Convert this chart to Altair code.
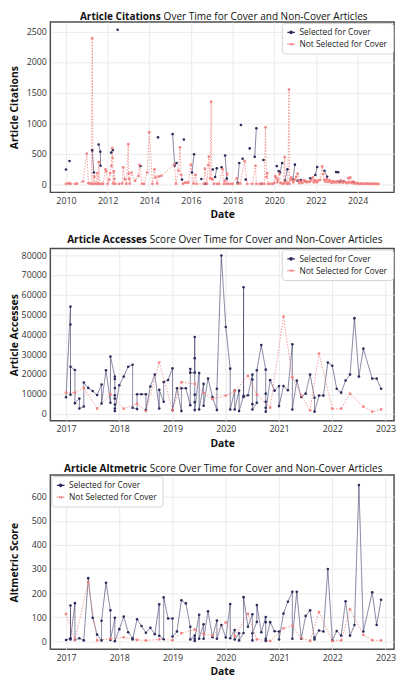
import altair as alt
import pandas as pd

SEL = "Selected for Cover"
NOT = "Not Selected for Cover"
NAVY = "#2b2b5c"
RED = "#f27b7b"
FONT = "Open Sans"

# ---------------- Panel 1: Article Citations (decimal years) ----------------
cit_sel_year = [2010.0, 2010.17, 2011.26, 2011.34, 2011.57, 2011.65, 2011.66, 2012.17, 2012.25, 2012.48,
                2013.58, 2014.42, 2015.12, 2015.22, 2015.31, 2015.57, 2015.66, 2016.05, 2016.15, 2016.5,
                2016.69, 2017.05, 2017.16, 2017.24, 2017.47, 2017.64, 2017.72, 2018.24, 2018.32, 2018.4,
                2018.48, 2018.63, 2018.82, 2019.06, 2019.14, 2019.39, 2019.48, 2020.12, 2020.21, 2020.28,
                2020.38, 2020.52, 2020.63, 2020.9, 2020.99, 2021.12, 2021.27, 2021.48, 2021.73, 2021.97,
                2022.06, 2022.41, 2022.54, 2022.97, 2023.07, 2023.15, 2023.33, 2023.8]
cit_sel_val = [240, 378, 553, 190, 650, 530, 300, 516, 560, 2527,
               298, 766, 819, 303, 346, 74, 729, 191, 489, 85,
               5, 240, 117, 260, 277, 468, 90, 20, 346, 968,
               415, 74, 585, 447, 915, 5, 394, 295, 215, 190,
               345, 60, 242, 75, 319, 55, 65, 50, 95, 150,
               280, 218, 120, 197, 195, 40, 45, 35]
cit_sel_seg = [0, 1, 2, 2, 3, 3, 3, 4, 4, 5,
               6, 7, 8, 8, 8, 9, 10, 11, 11, 12,
               13, 14, 15, 15, 16, 17, 17, 18, 18, 19,
               20, 21, 22, 23, 23, 24, 25, 26, 27, 27,
               27, 28, 28, 29, 29, 30, 31, 32, 33, 34,
               34, 35, 35, 36, 36, 37, 38, 39]

cit_not_year = [2010.0, 2010.12, 2010.17, 2010.22, 2010.45, 2010.52, 2010.82, 2011.0, 2011.08, 2011.15,
                2011.22, 2011.26, 2011.3, 2011.36, 2011.4, 2011.45, 2011.5, 2011.54, 2011.58, 2011.62,
                2011.7, 2011.78, 2011.9, 2011.93, 2012.0, 2012.08, 2012.12, 2012.18, 2012.22, 2012.24,
                2012.27, 2012.3, 2012.32, 2012.36, 2012.55, 2012.7, 2012.75, 2012.83, 2012.9, 2012.99,
                2013.01, 2013.03, 2013.06, 2013.15, 2013.32, 2013.48, 2013.53, 2013.65, 2013.75, 2013.9,
                2014.0, 2014.15, 2014.25, 2014.3, 2014.38, 2014.45, 2014.58, 2015.2, 2015.28, 2015.4,
                2015.47, 2015.53, 2015.62, 2015.72, 2015.8, 2015.88, 2016.0, 2016.12, 2016.22, 2016.27,
                2016.62, 2016.67, 2016.77, 2016.83, 2016.86, 2016.92, 2016.97, 2017.0, 2017.03, 2017.1,
                2017.25, 2017.35, 2017.52, 2017.58, 2017.62, 2017.7, 2017.74, 2017.78, 2017.9, 2018.0,
                2018.2, 2018.24, 2018.36, 2018.58, 2018.7, 2018.95, 2019.1, 2019.14, 2019.3, 2019.4,
                2019.52, 2019.58, 2019.62, 2019.66, 2019.7, 2019.8, 2019.92, 2020.0, 2020.05, 2020.1,
                2020.15, 2020.18, 2020.25, 2020.3, 2020.4, 2020.45, 2020.5, 2020.52, 2020.6, 2020.65,
                2020.71, 2020.73, 2020.78, 2020.82, 2020.88, 2020.92, 2021.0, 2021.05, 2021.12, 2021.17,
                2021.2, 2021.28, 2021.35, 2021.42, 2021.48, 2021.55, 2021.62, 2021.7, 2021.78, 2021.85,
                2021.9, 2021.95, 2022.0, 2022.05, 2022.12, 2022.2, 2022.3, 2022.35, 2022.4, 2022.45,
                2022.52, 2022.58, 2022.65, 2022.7, 2022.75, 2022.82, 2022.88, 2022.95, 2023.0, 2023.05,
                2023.12, 2023.2, 2023.28, 2023.35, 2023.42, 2023.5, 2023.55, 2023.6, 2023.65, 2023.7,
                2023.75, 2023.82, 2023.88, 2023.95, 2024.02, 2024.1, 2024.18, 2024.25, 2024.32, 2024.4,
                2024.48, 2024.55, 2024.62, 2024.7, 2024.78, 2024.85, 2024.92, 2025.0]
cit_not_val = [5, 10, 15, 5, 5, 8, 45, 500, 15, 10,
               5, 2390, 5, 125, 8, 5, 180, 5, 360, 5,
               5, 5, 240, 210, 5, 75, 180, 300, 590, 430,
               10, 210, 85, 5, 5, 10, 275, 80, 5, 655,
               170, 85, 8, 190, 55, 135, 315, 5, 5, 190,
               850, 5, 240, 110, 10, 125, 135, 320, 5, 220,
               600, 150, 5, 25, 25, 25, 320, 10, 150, 5,
               5, 255, 5, 310, 450, 95, 1350, 85, 80, 5,
               5, 5, 240, 5, 55, 5, 170, 5, 5, 5,
               95, 5, 10, 375, 5, 5, 300, 5, 5, 5,
               5, 930, 115, 180, 5, 5, 5, 20, 130, 100,
               30, 70, 170, 20, 5, 10, 445, 40, 5, 20,
               1548, 5, 75, 110, 60, 30, 75, 120, 170, 60,
               15, 40, 20, 65, 45, 30, 40, 35, 65, 110,
               30, 65, 45, 30, 60, 70, 290, 165, 70, 40,
               80, 35, 65, 40, 20, 50, 25, 40, 30, 50,
               25, 60, 20, 45, 30, 15, 100, 30, 110, 20,
               40, 10, 25, 5, 15, 5, 10, 5, 8, 5,
               10, 5, 3, 8, 5, 3, 5, 3]

# ---------------- Panel 2: Article Accesses (month index from Jan 2017) ----------------
acc_sel_month = [0, 1, 1, 1, 1, 2, 2, 3, 3, 4, 4, 5, 6, 7, 8, 8, 9, 10, 10,
                 11, 11, 11, 11, 11, 11, 11, 11, 12, 13, 14, 15, 15, 16, 16, 17, 18, 18,
                 19, 20, 21, 21, 22, 22, 23, 24, 24, 25, 26, 26, 27, 28, 28, 28,
                 29, 29, 29, 29, 29, 29, 30, 30, 31, 31, 32, 33, 34, 34, 35, 36, 37, 37,
                 38, 38, 39, 39, 40, 40, 40, 41, 42, 42, 42, 42, 43, 43, 44,
                 45, 45, 45, 45, 45, 46, 47, 48, 48, 49, 50, 51, 51, 52, 53, 54, 55, 56, 56,
                 57, 58, 59, 60, 61, 62, 63, 64, 65, 66, 67, 69, 70, 71]
acc_sel_val = [8300, 54000, 45000, 9600, 23700, 22000, 5300, 7600, 2600, 3600, 15700, 13000, 11400, 9400, 14700, 5100, 21900, 5500, 28800,
               18700, 17500, 12900, 9300, 7600, 4600, 2600, 1300, 14300, 18700, 23700, 24700, 3000, 2300, 9800, 9800, 9800, 1800,
               13700, 19700, 2600, 12000, 6000, 16000, 17000, 22900, 1700, 12800, 1300, 12800, 12800, 4300, 22500, 20700,
               20700, 38700, 28000, 9600, 5800, 1800, 20500, 2100, 15000, 4000, 17700, 8400, 1800, 12600, 79800, 43700, 22700, 2100,
               11600, 2100, 11600, 1300, 9000, 63800, 8400, 9300, 19700, 17200, 4800, 2100, 5500, 21900, 34600,
               22200, 10100, 6000, 3000, 1000, 16900, 11600, 13900, 3800, 13900, 11800, 35000, 2100, 16700, 8400, 10100, 19700, 8000, 1000,
               9100, 9100, 25800, 24200, 12600, 10600, 16700, 19700, 48200, 18700, 32800, 17700, 17700, 12600]
acc_not_month = [0, 2, 4, 7, 10, 13, 16, 18, 21, 24, 26, 29, 31, 33, 36,
                 38, 41, 43, 46, 49, 51, 53, 55, 57, 60, 62, 64, 67, 69, 71]
acc_not_val = [10600, 10600, 13000, 2500, 9900, 2500, 5100, 1300, 25800, 1700, 15900, 15000, 10400, 7300, 9100,
               11300, 19000, 9600, 3000, 49000, 18400, 9100, 1700, 30300, 2500, 2500, 10100, 3500, 1000, 2100]

# ---------------- Panel 3: Altmetric Score (month index from Jan 2017) ----------------
alt_sel_month = [0, 1, 1, 1, 2, 2, 3, 4, 5, 6, 7, 8, 8, 9, 10, 10, 11, 11, 12, 13, 14, 15, 15,
                 16, 17, 18, 19, 20, 21, 21, 22, 22, 23, 24, 24, 25, 26, 27, 28, 28, 29, 29, 29,
                 30, 30, 31, 31, 32, 33, 34, 34, 35, 36, 37, 37, 38, 38, 39, 39, 40, 40, 41,
                 42, 42, 42, 43, 43, 44, 45, 45, 45, 45, 46, 47, 48, 48, 49, 50, 51, 51, 52, 53,
                 54, 55, 56, 56, 57, 58, 59, 60, 61, 62, 63, 64, 65, 66, 67, 69, 70, 71]
alt_sel_val = [5, 12, 148, 7, 158, 5, 12, 3, 262, 97, 27, 3, 85, 243, 128, 5, 97, 0, 50, 102, 37, 12, 7,
               91, 63, 35, 56, 29, 153, 22, 8, 182, 94, 94, 19, 40, 170, 157, 60, 7, 23, 1, 10,
               110, 10, 70, 10, 124, 16, 86, 10, 67, 15, 154, 12, 46, 7, 33, 3, 34, 183, 60,
               112, 3, 33, 80, 150, 37, 100, 79, 10, 1, 79, 41, 40, 7, 115, 164, 205, 10, 205, 10,
               105, 128, 7, 15, 44, 40, 300, 3, 42, 23, 166, 23, 67, 649, 40, 203, 67, 172]
alt_not_month = [0, 2, 5, 7, 10, 13, 16, 18, 21, 24, 26, 29, 31, 33, 36,
                 38, 41, 43, 46, 49, 51, 53, 55, 57, 60, 62, 64, 67, 69, 71]
alt_not_val = [113, 5, 244, 3, 10, 16, 5, 3, 7, 4, 33, 48, 30, 23, 78,
               20, 113, 7, 1, 53, 64, 14, 1, 121, 1, 3, 132, 26, 4, 3]

assert len(cit_sel_year) == len(cit_sel_val) == len(cit_sel_seg)
assert len(cit_not_year) == len(cit_not_val)
assert len(acc_sel_month) == len(acc_sel_val)
assert len(alt_sel_month) == len(alt_sel_val)


def to_year(months):
    return [2017 + m / 12 for m in months]


def make_df(sx, sy, sseg, nx, ny):
    rows = []
    for i, (x, y, s) in enumerate(zip(sx, sy, sseg)):
        rows.append({"year": x, "value": y, "series": SEL, "seg": f"s{s}", "i": i})
    for i, (x, y) in enumerate(zip(nx, ny)):
        rows.append({"year": x, "value": y, "series": NOT, "seg": "n", "i": i})
    return pd.DataFrame(rows)


SYMBOL = "M-1,0L1,0M0.32,0A0.32,0.32,0,1,1,-0.32,0A0.32,0.32,0,1,1,0.32,0"
color_scale = alt.Scale(domain=[SEL, NOT], range=[NAVY, RED])
dash_scale = alt.Scale(domain=[SEL, NOT], range=[[1, 0], [1.5, 1.5]])
opac_scale = alt.Scale(domain=[SEL, NOT], range=[0.6, 0.75])


def panel(df, bold, rest, split, ty, ytitle, xdom, xticks, ydom, yticks, h, orient):
    x = alt.X("year:Q", scale=alt.Scale(domain=xdom, nice=False, zero=False),
              axis=alt.Axis(values=xticks, format="d", title="Date"))
    y = alt.Y("value:Q", scale=alt.Scale(domain=ydom, nice=False, zero=False),
              axis=alt.Axis(values=yticks, format="d", title=ytitle, titleX=-31))
    leg = alt.Legend(title=None, orient=orient, offset=1, fillColor="white", strokeColor="#d4d4d4",
                     cornerRadius=3, padding=5, labelFont=FONT, labelFontSize=8.5, labelColor="#222",
                     symbolType=SYMBOL, symbolSize=60, symbolStrokeWidth=1.2, rowPadding=3)
    lines = alt.Chart(df).mark_line(strokeWidth=1).encode(
        x=x, y=y,
        color=alt.Color("series:N", scale=color_scale, legend=leg),
        strokeDash=alt.StrokeDash("series:N", scale=dash_scale, legend=leg),
        opacity=alt.Opacity("series:N", scale=opac_scale, legend=None),
        detail="seg:N",
        order="i:Q",
    )
    sel_pts = alt.Chart(df).transform_filter(alt.datum.series == SEL).mark_circle(
        size=7, color=NAVY, opacity=1).encode(x=x, y=y)
    not_pts = alt.Chart(df).transform_filter(alt.datum.series == NOT).mark_circle(
        size=8, color=RED, opacity=0.9).encode(x=x, y=y)
    one = alt.Data(values=[{}])
    t1 = alt.Chart(one).mark_text(align="right", baseline="middle", fontWeight="bold",
                                  fontSize=10.2, font=FONT, color="#111").encode(
        x=alt.value(split), y=alt.value(ty), text=alt.value(bold))
    t2 = alt.Chart(one).mark_text(align="left", baseline="middle", fontWeight="normal",
                                  fontSize=10.2, font=FONT, color="#111", dx=3).encode(
        x=alt.value(split), y=alt.value(ty), text=alt.value(rest))
    return alt.layer(lines, sel_pts, not_pts, t1, t2).properties(width=349, height=h)


df1 = make_df(cit_sel_year, cit_sel_val, cit_sel_seg, cit_not_year, cit_not_val)
df2 = make_df(to_year(acc_sel_month), acc_sel_val, [0] * len(acc_sel_val), to_year(acc_not_month), acc_not_val)
df3 = make_df(to_year(alt_sel_month), alt_sel_val, [0] * len(alt_sel_val), to_year(alt_not_month), alt_not_val)

p1 = panel(df1, "Article Citations", "Over Time for Cover and Non-Cover Articles", 112, -5,
           "Article Citations", [2009.25, 2025.75], list(range(2010, 2025, 2)),
           [-135, 2655], [0, 500, 1000, 1500, 2000, 2500], 173, "top-right")
p2 = panel(df2, "Article Accesses", "Score Over Time for Cover and Non-Cover Articles", 98, -9,
           "Article Accesses", [2016.705, 2023.16], list(range(2017, 2024)),
           [-3630, 83330], list(range(0, 80001, 10000)), 175, "top-right")
p3 = panel(df3, "Article Altmetric", "Score Over Time for Cover and Non-Cover Articles", 98, -6.3,
           "Altmetric Score", [2016.705, 2023.16], list(range(2017, 2024)),
           [-34, 691], list(range(0, 601, 100)), 177, "top-left")

chart = alt.vconcat(p1, p2, p3, spacing=12).properties(
    padding={"left": 1, "top": -2, "right": 0, "bottom": 0}
).configure_view(
    stroke="#4d4d4d", strokeWidth=1.5
).configure_axis(
    labelFont=FONT, labelFontSize=9, labelColor="#333", labelPadding=4,
    titleFont=FONT, titleFontSize=10.5, titleFontWeight="bold", titleColor="#111",
    grid=True, gridColor="#e6e6e6", gridWidth=0.8, domain=False, ticks=False,
).configure_axisX(titlePadding=5)

chart.save("out.html", embed_options={"renderer": "svg", "actions": False})
